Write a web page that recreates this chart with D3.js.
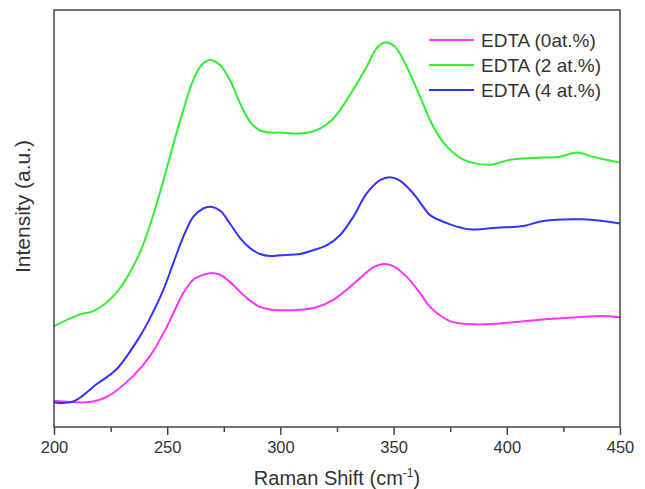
<!DOCTYPE html>
<html>
<head>
<meta charset="utf-8">
<script src="https://cdn.jsdelivr.net/npm/d3@7"></script>
<style>
  body { margin: 0; background: #fff; }
  svg { font-family: Arial, "Liberation Sans", sans-serif; }
</style>
</head>
<body>
<div id="chart"></div>
<script>
// Raman shift (cm-1) and intensity (a.u., arbitrary offset units)
const x0at = [200, 215.9, 223.3, 234.9, 242.4, 249.8, 257.1, 261.5, 265.9, 269.2, 273.3, 277.7, 282.2, 286.6, 291.0, 295.4, 299.8, 308.7, 316.0, 323.4, 329.3, 335.2, 341.0, 345.5, 349.9, 355.8, 361.7, 366.1, 374.9, 386.7, 402.7, 416, 431, 441.2, 450];
const y0at = [6.3, 6.0, 7.2, 12.2, 17.0, 24.0, 32.1, 35.3, 36.5, 36.9, 36.5, 34.8, 32.4, 30.3, 28.8, 28.2, 28.0, 28.1, 28.7, 30.5, 32.9, 35.7, 38.3, 39.1, 38.6, 36.0, 32.1, 28.8, 25.4, 24.6, 25.1, 25.8, 26.3, 26.6, 26.3];

const x2at = [200, 211.5, 217.4, 227.7, 238, 246.8, 252.0, 257.1, 261.5, 265.2, 268.9, 273.3, 277.7, 282.2, 286.6, 291.0, 295.4, 299.8, 308.7, 316.0, 323.4, 330.7, 338.1, 342.5, 346.2, 350.6, 355.8, 361.7, 366.1, 369, 374, 380.8, 392.6, 401.4, 416, 423.5, 430.9, 438.1, 450];
const y2at = [24.2, 27.0, 27.8, 32.3, 41.9, 56.2, 66.4, 76.0, 83.2, 86.8, 88.0, 86.8, 83.2, 77.6, 73.2, 71.1, 70.6, 70.6, 70.4, 71.2, 74.0, 79.6, 86.4, 90.8, 92.2, 91.2, 86.4, 79.2, 73.6, 70.6, 67.0, 64.1, 62.9, 64.1, 64.6, 64.8, 65.8, 64.8, 63.4];

const x4at = [200, 208.5, 218.9, 227.7, 238, 242.4, 248.3, 252.7, 257.1, 261.5, 265.9, 269.2, 273.3, 277.7, 282.2, 286.6, 291.0, 295.4, 299.8, 308.7, 314.5, 320.5, 326.3, 332.2, 338.1, 344.0, 348.4, 352.8, 358.7, 363.1, 366.1, 375, 383.7, 395.5, 407.3, 416, 433.7, 450];
const y4at = [5.9, 6.1, 10.3, 13.9, 21.8, 26.1, 32.9, 39.3, 45.6, 50.4, 52.4, 52.8, 51.9, 48.8, 45.3, 42.9, 41.5, 41.0, 41.2, 41.5, 42.4, 43.6, 46.0, 50.4, 56.0, 59.2, 59.9, 59.1, 56.0, 52.8, 50.8, 48.6, 47.4, 47.8, 48.2, 49.4, 49.8, 48.8];

const seriesNames = ["EDTA (0at.%)", "EDTA (2 at.%)", "EDTA (4 at.%)"];
const seriesColors = ["#ff33ff", "#33ee33", "#3333ff"];
const xTicks = [200, 250, 300, 350, 400, 450];
const xMinorTicks = [225, 275, 325, 375, 425];

const series = [
  { name: seriesNames[0], color: seriesColors[0], values: x0at.map((x, i) => ({ x, y: y0at[i] })) },
  { name: seriesNames[1], color: seriesColors[1], values: x2at.map((x, i) => ({ x, y: y2at[i] })) },
  { name: seriesNames[2], color: seriesColors[2], values: x4at.map((x, i) => ({ x, y: y4at[i] })) }
];

const width = 645, height = 489;
const margin = { left: 54, right: 25, top: 10, bottom: 62 };

const x = d3.scaleLinear().domain([200, 450]).range([margin.left, width - margin.right]);
const y = d3.scaleLinear().domain([0, 100]).range([height - margin.bottom, margin.top]);

const svg = d3.select("#chart").append("svg")
  .attr("width", width)
  .attr("height", height);

const axisColor = "#444";

const line = d3.line()
  .x(d => x(d.x))
  .y(d => y(d.y))
  .curve(d3.curveCatmullRom.alpha(0.5));

svg.append("g")
  .selectAll("path")
  .data(series)
  .join("path")
    .attr("fill", "none")
    .attr("stroke", d => d.color)
    .attr("stroke-width", 2)
    .attr("d", d => line(d.values));

// frame
svg.append("rect")
  .attr("x", margin.left)
  .attr("y", margin.top)
  .attr("width", width - margin.left - margin.right)
  .attr("height", height - margin.top - margin.bottom)
  .attr("fill", "none")
  .attr("stroke", axisColor)
  .attr("stroke-width", 1.5);

// bottom axis
const xAxis = svg.append("g")
  .attr("transform", `translate(0,${height - margin.bottom})`)
  .call(d3.axisBottom(x).tickValues(xTicks).tickSize(8).tickPadding(6).tickFormat(d3.format("d")));
xAxis.select(".domain").remove();
xAxis.selectAll(".tick line").attr("stroke", axisColor).attr("stroke-width", 1.5);
xAxis.selectAll(".tick text")
  .attr("fill", "#333")
  .style("font-size", "16.5px")
  .style("font-family", "Arial, 'Liberation Sans', sans-serif");

const xMinor = svg.append("g")
  .attr("transform", `translate(0,${height - margin.bottom})`)
  .call(d3.axisBottom(x).tickValues(xMinorTicks).tickSize(5).tickFormat(""));
xMinor.select(".domain").remove();
xMinor.selectAll(".tick line").attr("stroke", axisColor).attr("stroke-width", 1.5);

// axis titles
const xTitle = svg.append("text")
  .attr("x", (margin.left + width - margin.right) / 2)
  .attr("y", 485)
  .attr("text-anchor", "middle")
  .attr("fill", "#333")
  .style("font-size", "20px");
xTitle.append("tspan").text("Raman Shift (cm");
xTitle.append("tspan").attr("dy", -8).style("font-size", "12px").text("-1");
xTitle.append("tspan").attr("dy", 8).text(")");

svg.append("text")
  .attr("transform", `translate(30,${(margin.top + height - margin.bottom) / 2 - 12}) rotate(-90)`)
  .attr("text-anchor", "middle")
  .attr("fill", "#333")
  .style("font-size", "21px")
  .text("Intensity (a.u.)");

// legend
const legend = svg.append("g")
  .selectAll("g")
  .data(series)
  .join("g")
    .attr("transform", (d, i) => `translate(429,${40 + i * 25})`);

legend.append("line")
  .attr("x1", 0).attr("x2", 45)
  .attr("stroke", d => d.color)
  .attr("stroke-width", 2);

legend.append("text")
  .attr("x", 52)
  .attr("y", 7)
  .attr("fill", "#333")
  .style("font-size", "19px")
  .text(d => d.name);
</script>
</body>
</html>
